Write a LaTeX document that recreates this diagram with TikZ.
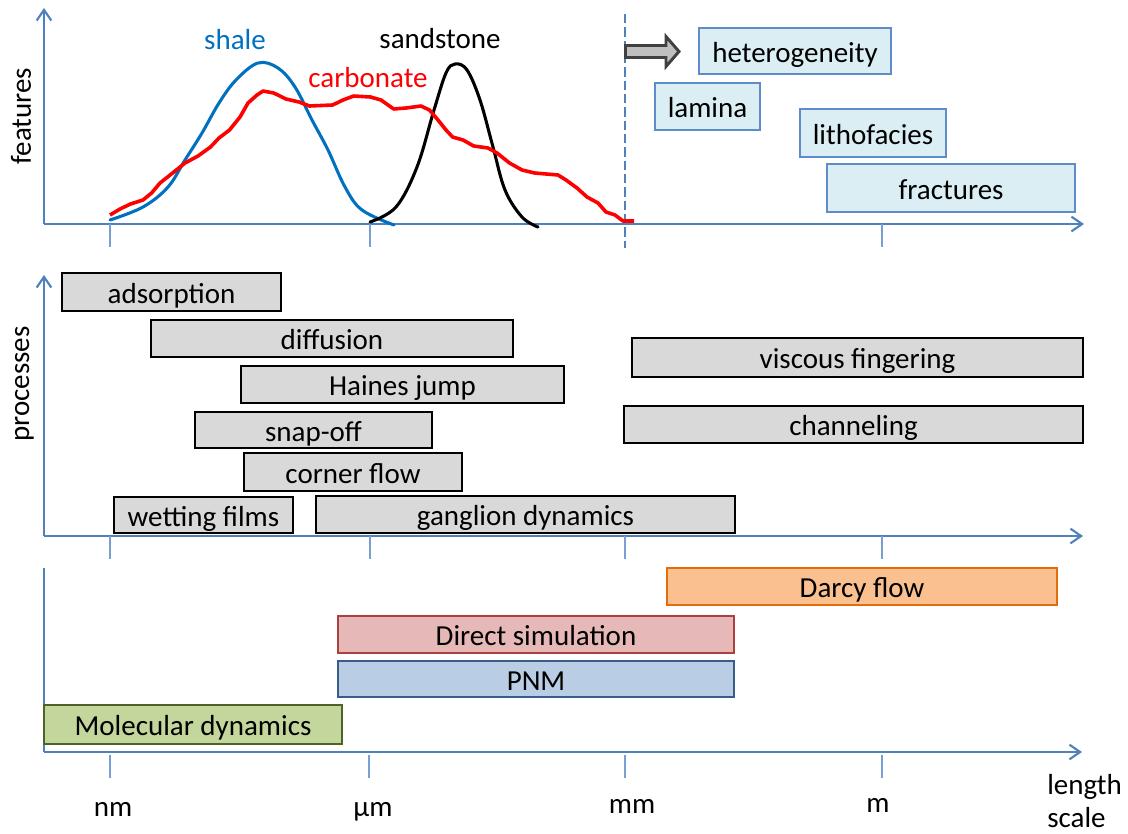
\documentclass[tikz,border=0pt]{standalone}
\usepackage{fontspec}
\setmainfont{Carlito}
\usetikzlibrary{arrows.meta}
\definecolor{axisblue}{RGB}{79,129,189}
\definecolor{tickblue}{RGB}{120,160,212}
\definecolor{shaleblue}{RGB}{0,112,192}
\definecolor{featfill}{RGB}{219,238,244}
\definecolor{featborder}{RGB}{95,140,200}
\definecolor{procfill}{RGB}{217,217,217}
\definecolor{darcyfill}{RGB}{250,192,144}
\definecolor{darcyborder}{RGB}{228,108,10}
\definecolor{dsfill}{RGB}{230,185,184}
\definecolor{dsborder}{RGB}{170,65,62}
\definecolor{pnmfill}{RGB}{185,205,229}
\definecolor{pnmborder}{RGB}{56,93,138}
\definecolor{mdfill}{RGB}{195,214,155}
\definecolor{mdborder}{RGB}{79,98,40}
\definecolor{arrowfill}{RGB}{191,191,191}
\definecolor{arrowborder}{RGB}{64,64,64}
\newcommand\lblfont{\fontsize{21.75}{26}\selectfont}
% \rbox{style}{name}{x1}{y1}{x2}{y2}{text}
\newcommand\rbox[7]{\node[#1,minimum width={(#5-#3)*0.75pt},minimum height={(#6-#4)*0.75pt}] (#2) at ({(#3+#5)/2},{(#4+#6)/2}) {#7};}
\begin{document}
\begin{tikzpicture}[x=0.75pt,y=-0.75pt,
  axisline/.style={draw=axisblue,line width=1.6pt,-{Straight Barb[length=8pt,width=11pt,line width=1.6pt]}},
  plainaxis/.style={draw=axisblue,line width=1.6pt},
  tickline/.style={draw=tickblue,line width=1pt},
  boxbase/.style={rectangle,inner sep=0pt,font=\lblfont,text height=20pt,text depth=3.5pt},
  featbox/.style={boxbase,draw=featborder,fill=featfill,line width=1pt},
  procbox/.style={boxbase,draw=black,fill=procfill,line width=1.8pt},
  darcybox/.style={boxbase,draw=darcyborder,fill=darcyfill,line width=1.6pt},
  dsbox/.style={boxbase,draw=dsborder,fill=dsfill,line width=1.6pt},
  pnmbox/.style={boxbase,draw=pnmborder,fill=pnmfill,line width=1.6pt},
  mdbox/.style={boxbase,draw=mdborder,fill=mdfill,line width=1.6pt},
  lbl/.style={font=\lblfont,inner sep=0pt,anchor=base},
  curve/.style={line width=2.3pt,line join=round,line cap=round}
]
\useasboundingbox (0,0) rectangle (1128,833);

% ---------- top panel: features ----------
\coordinate (o1) at (44,224);
\coordinate (y1) at (44,8);
\coordinate (x1) at (1084,224);
\draw[axisline] (o1) -- (y1);
\draw[axisline] (o1) -- (x1);
\foreach \t/\xx in {a/110,b/370,d/882}{
  \coordinate (t1\t) at (\xx,224);
  \coordinate (t1\t e) at (\xx,247);
  \draw[tickline] (t1\t) -- (t1\t e);
}
\coordinate (dashtop) at (625,14);
\coordinate (dashbot) at (625,248);
\draw[draw=axisblue,line width=1.4pt,dash pattern=on 7pt off 3pt] (dashtop) -- (dashbot);

% curves
\draw[curve,draw=shaleblue] plot[smooth,tension=0.6] coordinates {
(110,220) (143,207) (168,187) (185,160) (202,133) (219,103) (236,80) (258,63)
(278,68) (295,87) (312,120) (328,150) (345,187) (362,210) (394,225)};
\draw[curve,draw=black] plot[smooth,tension=0.6] coordinates {
(370,222) (396,207) (417,167) (434,110) (446,73) (455,64) (467,70) (480,100)
(493,147) (505,190) (522,217) (538,227)};
\draw[curve,draw=red,line width=2.7pt,line cap=butt] plot coordinates {
(110,215) (120,209) (130.5,204) (143,200) (151.6,193) (160,183) (172.6,173)
(185,163) (198,156) (210.5,147) (219,138) (229.5,130) (240,117) (248,103)
(257,95) (263,91) (273.7,93) (286,99) (299,102) (309.5,106) (332.6,105)
(343,100) (353.7,96) (370.5,97) (381,100) (393.7,109) (406,108) (421,106)
(429.5,110) (438,120) (446,130) (452.6,137) (463,140) (473.7,146) (488,148)
(497,153) (509.5,163) (522,170) (534.7,173) (558,175) (566,180) (577,188)
(587,197) (598,203) (606,212) (615,215) (623,221) (634,221)};

\node[lbl,text=shaleblue] (shale) at (235,49) {shale};
\node[lbl,text=black] (sandstone) at (440,48) {sandstone};
\node[lbl,text=red] (carbonate) at (368,87) {carbonate};
\node[lbl,rotate=90] (features) at (31,116) {features};

% block arrow
\draw[line width=2.2pt,draw=arrowborder,fill=arrowfill,line join=miter]
  (625.5,45.5) -- (666,45.5) -- (666,36.5) -- (679,51.5) -- (666,66.5) -- (666,57.5) -- (625.5,57.5) -- cycle;

\rbox{featbox}{het}{699}{28}{891}{74}{heterogeneity}
\rbox{featbox}{lam}{655}{83}{760}{130}{lamina}
\rbox{featbox}{lith}{800}{109}{946}{157}{lithofacies}
\rbox{featbox}{frac}{827}{164}{1075}{212}{fractures}

% ---------- middle panel: processes ----------
\coordinate (o2) at (44,536);
\coordinate (y2) at (44,275);
\coordinate (x2) at (1083,536);
\draw[axisline] (o2) -- (y2);
\draw[axisline] (o2) -- (x2);
\foreach \t/\xx in {a/110,b/370,c/625,d/882}{
  \coordinate (t2\t) at (\xx,536);
  \coordinate (t2\t e) at (\xx,559);
  \draw[tickline] (t2\t) -- (t2\t e);
}
\node[lbl,rotate=90] (processes) at (29,384) {processes};

\rbox{procbox}{ads}{62}{273}{281}{311}{adsorption}
\rbox{procbox}{dif}{151}{320}{513}{357}{diffusion}
\rbox{procbox}{haines}{241}{366}{564}{403}{Haines jump}
\rbox{procbox}{snap}{195}{412}{432}{448}{snap-off}
\rbox{procbox}{corner}{244}{453}{462}{491}{corner flow}
\rbox{procbox}{wet}{114}{497}{293}{533}{wetting films}
\rbox{procbox}{gang}{316}{496}{735}{533}{ganglion dynamics}
\rbox{procbox}{visc}{632}{338}{1083}{377}{viscous fingering}
\rbox{procbox}{chan}{624}{406}{1083}{443}{channeling}

% ---------- bottom panel: methods ----------
\coordinate (o3) at (44,752);
\coordinate (y3) at (44,568);
\coordinate (x3) at (1082,752);
\draw[plainaxis] (o3) -- (y3);
\draw[axisline] (o3) -- (x3);
\foreach \t/\xx in {a/110,b/369,c/625,d/882}{
  \coordinate (t3\t) at (\xx,755);
  \coordinate (t3\t e) at (\xx,778);
  \draw[tickline] (t3\t) -- (t3\t e);
}
\rbox{darcybox}{darcy}{667}{568}{1057}{605}{Darcy flow}
\rbox{dsbox}{ds}{338}{616}{734}{653}{Direct simulation}
\rbox{pnmbox}{pnm}{338}{661}{734}{697}{PNM}
\rbox{mdbox}{md}{44}{705}{342}{744}{Molecular dynamics}

\node[lbl] (nm) at (113,816) {nm};
\node[lbl] (um) at (373,816) {µm};
\node[lbl] (mm) at (632,813) {mm};
\node[lbl] (m) at (878,812) {m};
\node[lbl,anchor=base west] (length) at (1047,794) {length};
\node[lbl,anchor=base west] (scale) at (1047,827) {scale};
\end{tikzpicture}
\end{document}
